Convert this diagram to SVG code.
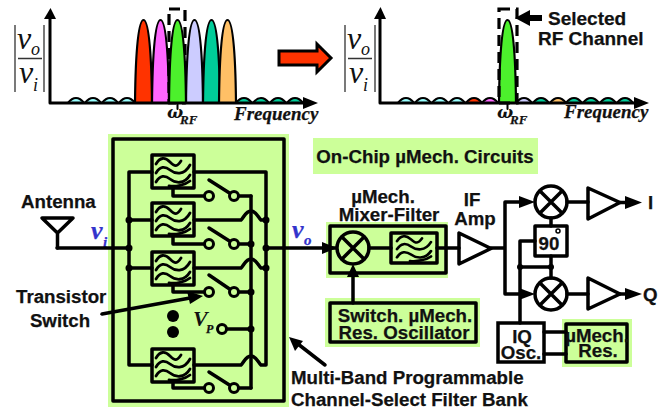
<svg xmlns="http://www.w3.org/2000/svg" width="665" height="410" viewBox="0 0 665 410">
<style>
text{font-family:"Liberation Sans",Arial,sans-serif;font-weight:bold;font-size:18.7px;fill:#111;stroke:#111;stroke-width:.25}
.m{text-anchor:middle}
.t{font-family:"Liberation Serif","Times New Roman",serif;font-style:italic;fill:#111}
.f{font-size:19px;font-weight:bold}
.w{font-family:"DejaVu Serif",serif;font-size:17px;font-weight:bold;stroke-width:0}
.r{font-size:13px;font-weight:bold}
.v{font-size:32px;font-weight:normal;stroke-width:0}
.vs{font-size:18px;font-weight:normal;stroke-width:0}
.b{fill:#3333cc;stroke:#3333cc;font-weight:bold}
.l{fill:none;stroke:#000;stroke-width:3;stroke-linejoin:round;stroke-linecap:round}
.k{fill:none;stroke:#000;stroke-width:3.5;stroke-linejoin:round;stroke-linecap:round}
.thin{fill:none;stroke:#333;stroke-width:1.3}
.nf{fill:none;stroke:#000;stroke-width:3.5;stroke-linejoin:round}
.bg{fill:#ccff99}
.p{stroke:#000;stroke-width:2.2;stroke-linejoin:round}
.d{fill:#000}
.o{fill:#ccff99;stroke:#000;stroke-width:3}
.dash{fill:none;stroke:#000;stroke-width:3.2;stroke-dasharray:11 6}
</style>
<defs>
<path id="pk" d="M0 83C0.500 35 3 0 8.500 0C14 0 16.500 35 17 83z"/>
<path id="hp" d="M0 5C3 1 5 0 8 0C11 0 13 1 16 5z"/>
<g id="wav" fill="none" stroke="#000" stroke-width="2.800" stroke-linecap="round">
<path d="M4 9C8 2 13 2 18 7S25 12 29 6"/>
<path d="M4 18C8 11 13 11 18 15S32 21 38 10"/>
<path d="M4 27C8 20 13 20 18 24S32 30 38 20"/>
<path d="M17 31C24 32 33 30 38 26"/>
</g>
<g id="flt"><rect x="0" y="0" width="42" height="33" class="nf"/><use href="#wav"/></g>
</defs>

<g id="plot-left">
<g id="plot-left-spectrum">
<g fill="#99ffff" class="p"><use href="#hp" x="68" y="98"/><use href="#hp" x="85" y="98"/><use href="#hp" x="102" y="98"/><use href="#hp" x="119" y="98"/></g>
<g fill="#00cc99" class="p"><use href="#hp" x="236" y="98"/><use href="#hp" x="253" y="98"/><use href="#hp" x="270" y="98"/><use href="#hp" x="287" y="98"/></g>
<g class="p">
<use href="#pk" x="135" y="20" fill="#ff3300"/>
<use href="#pk" x="152" y="20" fill="#ff66ff"/>
<rect x="169" y="9" width="16" height="94" class="dash"/>
<use href="#pk" x="186" y="20" fill="#ccccff"/>
<use href="#pk" x="203" y="20" fill="#00cc99"/>
<use href="#pk" x="219" y="20" fill="#ffc066"/>
<use href="#pk" x="169" y="20" fill="#4cf02c"/>
</g>
</g>
<path class="l" d="M50 103V18M50 103H305"/>
<path class="d" d="M44 19L50.500 8L56 19z"/>
<path class="d" d="M303 97L318 103L303 109z"/>
<path class="l" style="stroke-width:2" d="M177.500 103V109"/>
<path class="thin" d="M15 25V92M44 25V92M18 58.500H42"/>
<text class="t v" x="17" y="49">v</text><text class="t vs" x="31" y="55">o</text>
<text class="t v" x="19" y="83">v</text><text class="t vs" x="33" y="91">i</text>
<text class="t w" x="167" y="118">ω</text><text class="t r" x="180" y="124">RF</text>
<text class="t f" x="234" y="120">Frequency</text>
</g>

<g id="big-arrow"><path d="M279 51H317V44L331 58L317 72V65H279z" fill="#ff3300" stroke="#000" stroke-width="3"/></g>

<g id="plot-right">
<g id="plot-right-spectrum" class="p">
<g fill="#99ffff"><use href="#hp" x="398" y="98"/><use href="#hp" x="415" y="98"/><use href="#hp" x="432" y="98"/><use href="#hp" x="449" y="98"/></g>
<use href="#hp" x="466" y="98" fill="#ff3300"/>
<use href="#hp" x="482" y="98" fill="#ff66ff"/>
<use href="#hp" x="516" y="98" fill="#ccccff"/>
<use href="#hp" x="533" y="98" fill="#00cc99"/>
<use href="#hp" x="550" y="98" fill="#ffc066"/>
<g fill="#00cc99"><use href="#hp" x="566" y="98"/><use href="#hp" x="583" y="98"/><use href="#hp" x="600" y="98"/><use href="#hp" x="617" y="98"/></g>
<use href="#pk" x="499" y="20" fill="#4cf02c"/>
</g>
<rect x="499" y="9" width="18" height="94" class="dash"/>
<path class="l" d="M380 103V18M380 103H636"/>
<path class="d" d="M374 19L380.500 7L386 19z"/>
<path class="d" d="M634 97L649 103L634 109z"/>
<path class="l" style="stroke-width:2" d="M507.500 103V109"/>
<path class="thin" d="M345 25V92M375 25V92M348 58.500H372"/>
<text class="t v" x="347" y="49">v</text><text class="t vs" x="361" y="55">o</text>
<text class="t v" x="349" y="83">v</text><text class="t vs" x="363" y="91">i</text>
<text class="t w" x="497" y="118">ω</text><text class="t r" x="510" y="124">RF</text>
<text class="t f" x="564" y="118">Frequency</text>
<path class="d" d="M515 18L530 10V15H542V21H530V26z"/>
<text x="548" y="25" style="font-size:19px">Selected</text>
<text x="538" y="45" style="font-size:19px">RF Channel</text>
</g>

<g id="on-chip-legend"><rect x="313" y="138" width="225" height="36" class="bg"/><text x="425" y="163" class="m">On-Chip µMech. Circuits</text></g>

<g id="filter-bank">
<rect x="108" y="134" width="181" height="273" class="bg"/>
<rect x="113" y="139" width="171" height="262" class="nf"/>
<path class="k" d="M129 365V172H152M194 172H266V365M129 220H152M194 220H241C244 217 246 211 251 211C256 211 258 217 261 220H266M129 268H152M194 268H241C244 265 246 259 251 259C256 259 258 265 261 268H266M129 365H152M194 365H241C244 362 246 356 251 356C256 356 258 362 261 365H266"/>
<path class="k" d="M251 196V388"/>
<use href="#flt" x="152" y="155"/>
<use href="#flt" x="152" y="203"/>
<use href="#flt" x="152" y="252"/>
<use href="#flt" x="152" y="349"/>
<g class="k">
<path d="M173 188V196H204M209 180L231 194M239 196H251"/>
<path d="M173 236V244H204M209 228L231 242M239 244H251"/>
<path d="M173 285V292H204M209 275L231 290M239 292H251"/>
<path d="M173 382V388H204M209 372L231 386M239 388H251"/>
<path d="M227 329H251"/>
</g>
<g class="o">
<circle cx="209" cy="196" r="4.500"/><circle cx="234" cy="196" r="4.500"/>
<circle cx="209" cy="244" r="4.500"/><circle cx="234" cy="244" r="4.500"/>
<circle cx="209" cy="292" r="4.500"/><circle cx="234" cy="292" r="4.500"/>
<circle cx="209" cy="388" r="4.500"/><circle cx="234" cy="388" r="4.500"/>
<circle cx="222" cy="329" r="4.500"/>
</g>
<g class="d">
<circle cx="129" cy="220" r="3.500"/><circle cx="129" cy="248" r="3.500"/><circle cx="129" cy="268" r="3.500"/>
<circle cx="266" cy="220" r="3.500"/><circle cx="266" cy="248" r="3.500"/><circle cx="266" cy="268" r="3.500"/>
<circle cx="251" cy="244" r="3.500"/><circle cx="251" cy="292" r="3.500"/><circle cx="251" cy="329" r="3.500"/>
<circle cx="173" cy="316" r="6"/><circle cx="173" cy="332" r="6"/>
</g>
<text class="t" x="193" y="326" style="font-size:22px;stroke-width:0">V</text><text class="t" x="206" y="333" style="font-size:12px">P</text>
</g>

<g id="antenna"><path class="k" d="M42 218H73L57.500 233zM57.500 233V248"/><text x="21" y="208">Antenna</text></g>
<g id="vi-label"><text class="t b" x="91" y="239" style="font-size:26px">v</text><text class="t b" x="103" y="247" style="font-size:15px">i</text></g>
<g id="vo-label"><text class="t b" x="292" y="238" style="font-size:26px">v</text><text class="t b" x="304" y="245" style="font-size:15px">o</text></g>

<g id="mixer-filter">
<rect x="326" y="222" width="122" height="56" class="bg"/>
<rect x="330" y="226" width="116" height="47" class="nf"/>
<circle cx="353" cy="248" r="16" class="nf"/>
<path class="k" d="M342 237L364 259M364 237L342 259M369 248H391M437 248H459"/>
<rect x="391" y="233" width="46" height="30" class="nf"/>
<use href="#wav" transform="translate(393 233) scale(1 .9)"/>
<text x="383" y="203" class="m">µMech.</text>
<text x="389" y="221" class="m">Mixer-Filter</text>
</g>

<g id="oscillator">
<rect x="325" y="298" width="155" height="49" class="bg"/>
<rect x="330" y="303" width="146" height="39" class="nf"/>
<text x="405" y="322" class="m">Switch. µMech.</text>
<text x="404" y="339" class="m">Res. Oscillator</text>
</g>

<g id="if-amp"><path class="nf" d="M459 233V264L491 248.500z"/><text x="472" y="206" class="m">IF</text><text x="475" y="225" class="m">Amp</text></g>
<g id="mixer-i"><circle cx="551" cy="202" r="16" class="nf"/><path class="k" d="M540 191L562 213M562 191L540 213"/></g>
<g id="mixer-q"><circle cx="551" cy="294" r="16" class="nf"/><path class="k" d="M540 283L562 305M562 283L540 305"/></g>
<g id="amp-i"><path class="nf" d="M588 188V219L620 202.500z"/></g>
<g id="amp-q"><path class="nf" d="M588 278V309L620 294z"/></g>
<g id="phase"><rect x="535" y="226" width="32" height="30" class="nf"/><circle cx="558" cy="231" r="2" fill="none" stroke="#000" stroke-width="1.500"/><text x="549" y="250" class="m">90</text></g>
<g id="iq-osc"><rect x="498" y="323" width="46" height="39" fill="#fff" stroke="#000" stroke-width="3.500"/><text x="522" y="343" class="m">IQ</text><text x="521" y="359" class="m">Osc.</text></g>
<g id="res">
<rect x="562" y="319" width="70" height="48" class="bg"/>
<rect x="566" y="324" width="61" height="38" class="nf"/>
<text x="597" y="342" class="m">µMech.</text><text x="598" y="357" class="m">Res.</text>
</g>

<g id="connectors">
<path class="k" d="M57 248H129"/>
<path class="k" d="M266 248H336"/>
<path class="d" d="M322 242L337 248L322 254z"/>
<path class="k" d="M353 303V276"/>
<path class="d" d="M347 277L353 264L359 277z"/>
<path class="k" d="M491 248H505M505 294V202H520M505 294H520"/>
<path class="d" d="M519 196L535 202L519 208z"/>
<path class="d" d="M519 288L535 294L519 300z"/>
<path class="k" d="M567 202H588M567 294H588M551 218V226M551 256V267H520M551 267V278M535 241H520V323M544 332H566M544 354H566"/>
<path class="k" d="M620 202.500H628M620 294H628"/>
<path class="d" d="M625 196L642 202.500L625 209z"/>
<path class="d" d="M625 288L642 294L625 300z"/>
<circle cx="520" cy="267" r="3" class="d"/><circle cx="551" cy="267" r="3" class="d"/>
</g>

<g id="callouts">
<path class="k" d="M102 314L190 298"/>
<path class="d" d="M203 296L187 291L190 304z"/>
<path class="k" d="M325 365L298 344"/>
<path class="d" d="M289 337L303 341L295 351z"/>
<text x="16" y="303">Transistor</text>
<text x="60" y="327" class="m">Switch</text>
<text x="291" y="384">Multi-Band Programmable</text>
<text x="291" y="406">Channel-Select Filter Bank</text>
<text x="648" y="209">I</text>
<text x="643" y="301">Q</text>
</g>
</svg>
